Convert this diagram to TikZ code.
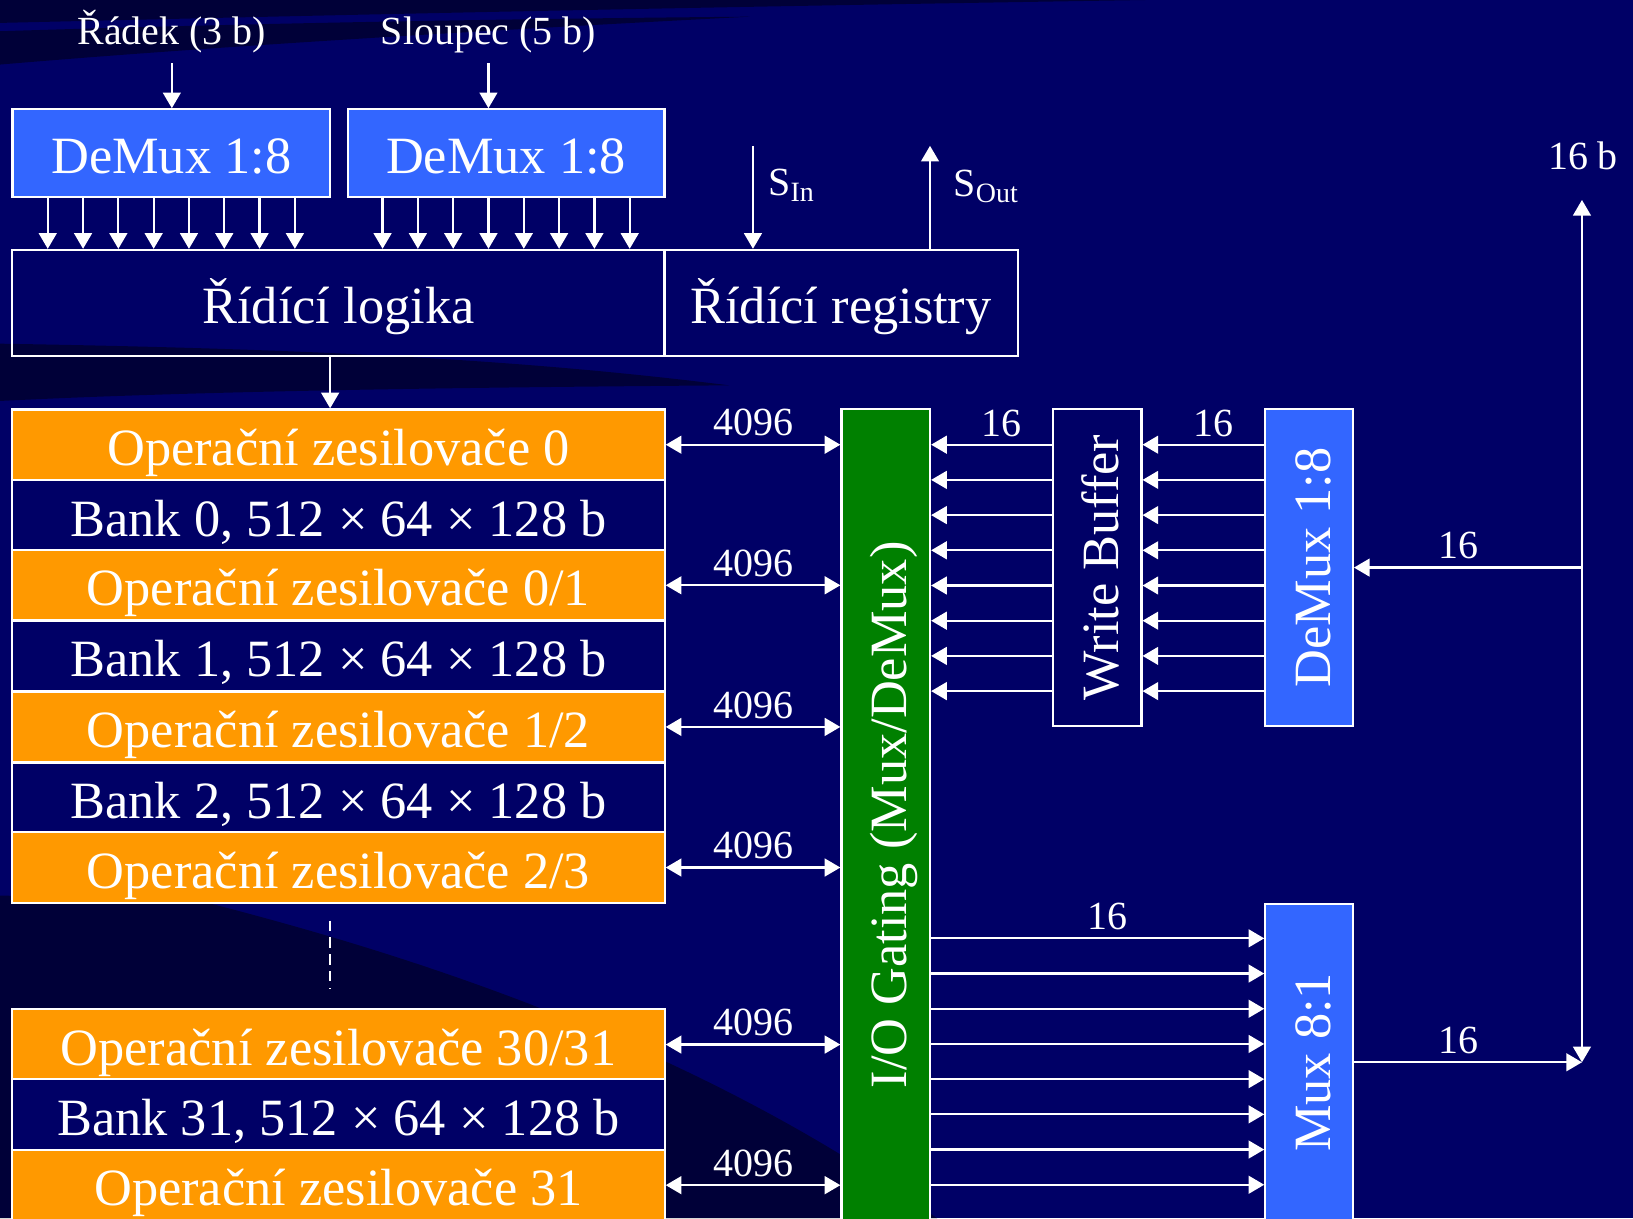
\documentclass[tikz,border=0pt]{standalone}
\usepackage{fontspec}
\setmainfont{Liberation Serif}
\usepackage{graphicx}
\usetikzlibrary{arrows.meta, calc}
\definecolor{slide}{HTML}{000066}
\definecolor{mux}{HTML}{3366FF}
\definecolor{amp}{HTML}{FF9900}
\definecolor{gate}{HTML}{008000}
% vertical label, baseline set like the horizontal ones
\newcommand{\uptext}[1]{\rotatebox{90}{\raisebox{0pt}[0.9em][0.1em]{#1}}}

\begin{document}
\begin{tikzpicture}[
  x=0.01cm, y=-0.01cm,
  big/.style={font=\fontsize{14.3}{17}\selectfont, text=white},
  small/.style={font=\fontsize{10.9}{13}\selectfont, text=white, inner sep=2pt},
  blk/.style={draw=white, line width=0.6pt, inner sep=0pt, big},
  flat/.style={text height=12.5pt, text depth=1.2pt},
  top/.style={small, text height=9pt, text depth=3pt},
  muxbox/.style={blk, fill=mux},
  ampbox/.style={blk, flat, fill=amp, minimum width=6.26cm, minimum height=0.677cm},
  bankbox/.style={blk, flat, fill=slide, minimum width=6.26cm, minimum height=0.677cm},
  wire/.style={white, line width=0.6pt},
  arr/.style={wire, -{Triangle[length=0.15cm, width=0.17cm]}},
  biarr/.style={wire, {Triangle[length=0.15cm, width=0.17cm]}-{Triangle[length=0.15cm, width=0.17cm]}},
  swoosh/.style={black, opacity=0.45},
]

% ---- slide background ----
\useasboundingbox (0,0) rectangle (1568,1170);
\clip (0,0) rectangle (1568,1170);
\fill[slide] (0,0) rectangle (1568,1170);
\fill[swoosh] (0,0) -- (1100,0) .. controls (600,8) and (300,15) .. (0,22) -- cycle;
\fill[swoosh] (0,30) .. controls (250,22) and (500,18) .. (720,16)
  .. controls (450,30) and (200,45) .. (0,62) -- cycle;
\fill[swoosh] (0,330) .. controls (300,335) and (500,345) .. (700,370)
  .. controls (450,372) and (200,375) .. (0,385) -- cycle;
\fill[swoosh] (0,860) -- (180,862) .. controls (350,905) and (650,990) .. (900,1170)
  -- (0,1170) -- cycle;

% ---- address inputs and decoders ----
\node[top] (rowlbl) at (165,32) {Řádek (3 b)};
\node[top] (collbl) at (469,32) {Sloupec (5 b)};
\node[muxbox, flat, minimum width=3.05cm, minimum height=0.84cm] (demuxR) at (164.5,147) {DeMux 1:8};
\node[muxbox, flat, minimum width=3.04cm, minimum height=0.84cm] (demuxC) at (486,147) {DeMux 1:8};
\draw[arr] (rowlbl.south) -- (rowlbl.south |- demuxR.north);
\draw[arr] (collbl.south) -- (collbl.south |- demuxC.north);

% ---- control logic and registers ----
\node[blk, flat, minimum width=6.26cm, minimum height=1.02cm] (logic) at (325,291) {Řídící logika};
\node[blk, flat, minimum width=3.39cm, minimum height=1.02cm] (regs) at (807.5,291) {Řídící registry};
\foreach \n in {demuxR, demuxC} {
  \foreach \i [evaluate=\i as \dx using (\i-4.5)*33.9] in {1,...,8} {
    \path ($(\n.south)+(\dx,0)$) coordinate (tmp);
    \draw[arr] (tmp) -- (tmp |- logic.north);
  }
}
\coordinate (sin)  at (723,140);
\coordinate (sout) at (893,140);
\draw[arr] (sin) -- (sin |- regs.north);
\draw[arr] (regs.north -| sout) -- (sout);
\node[small, anchor=west] (sinlbl)  at (730,178) {S\textsubscript{In}};
\node[small, anchor=west] (soutlbl) at (908,179) {S\textsubscript{Out}};

% ---- banks with their sense amplifiers ----
\node[ampbox]  (op0)    at (325,427)  {Operační zesilovače 0};
\node[bankbox] (bank0)  at (325,495)  {Bank 0, 512 × 64 × 128 b};
\node[ampbox]  (op01)   at (325,562)  {Operační zesilovače 0/1};
\node[bankbox] (bank1)  at (325,630)  {Bank 1, 512 × 64 × 128 b};
\node[ampbox]  (op12)   at (325,698)  {Operační zesilovače 1/2};
\node[bankbox] (bank2)  at (325,766)  {Bank 2, 512 × 64 × 128 b};
\node[ampbox]  (op23)   at (325,833)  {Operační zesilovače 2/3};
\node[ampbox]  (op3031) at (325,1003) {Operační zesilovače 30/31};
\node[bankbox] (bank31) at (325,1070) {Bank 31, 512 × 64 × 128 b};
\node[ampbox]  (op31)   at (325,1138) {Operační zesilovače 31};
\coordinate (dotsTop) at (317,884);
\coordinate (dotsBot) at (317,950);
\draw[wire, dash pattern=on 2.8pt off 1.8pt] (dotsTop) -- (dotsBot);
\draw[arr] (logic.south -| dotsTop) -- (op0.north -| dotsTop);

% ---- I/O gating ----
\node[blk, fill=gate, minimum width=0.85cm, minimum height=7.79cm] (gate) at (850.5,782.5)
  {\uptext{I/O Gating (Mux/DeMux)}};
\foreach \a in {op0, op01, op12, op23, op3031, op31} {
  \draw[biarr] (\a.east) -- (gate.west |- \a.east) node[midway, above, small] {4096};
}

% ---- write path ----
\node[blk, fill=slide, minimum width=0.85cm, minimum height=3.04cm] (wbuf) at (1053.5,545)
  {\uptext{Write Buffer}};
\node[muxbox, minimum width=0.84cm, minimum height=3.04cm] (demuxD) at (1257,545)
  {\uptext{DeMux 1:8}};
\foreach \i [evaluate=\i as \y using 427+33.8*\i] in {0,...,7} {
  \draw[arr] (wbuf.west |- 0,\y) -- (gate.east |- 0,\y);
  \draw[arr] (demuxD.west |- 0,\y) -- (wbuf.east |- 0,\y);
}
\node[small, above] at ($(wbuf.west |- 0,427)!0.42!(gate.east |- 0,427)$) {16};
\node[small, above] at ($(demuxD.west |- 0,427)!0.42!(wbuf.east |- 0,427)$) {16};

% ---- read path ----
\node[muxbox, minimum width=0.84cm, minimum height=3.04cm] (muxO) at (1257,1020)
  {\uptext{Mux 8:1}};
\foreach \i [evaluate=\i as \y using 901+33.8*\i] in {0,...,7} {
  \draw[arr] (gate.east |- 0,\y) -- (muxO.west |- 0,\y);
}
\node[small, above] at ($(gate.east |- 0,901)!0.53!(muxO.west |- 0,901)$) {16};

% ---- external data bus ----
\node[small] (buslbl) at (1520,150) {16 b};
\coordinate (busTop) at (1519,192);
\coordinate (busBot) at (1519,1020);
\draw[biarr] (busBot) -- (busTop);
\draw[arr] (muxO.east) -- (busBot) node[pos=0.46, above, small] {16};
\draw[arr] (busBot |- demuxD.east) -- (demuxD.east) node[pos=0.54, above, small] {16};

\end{tikzpicture}
\end{document}
